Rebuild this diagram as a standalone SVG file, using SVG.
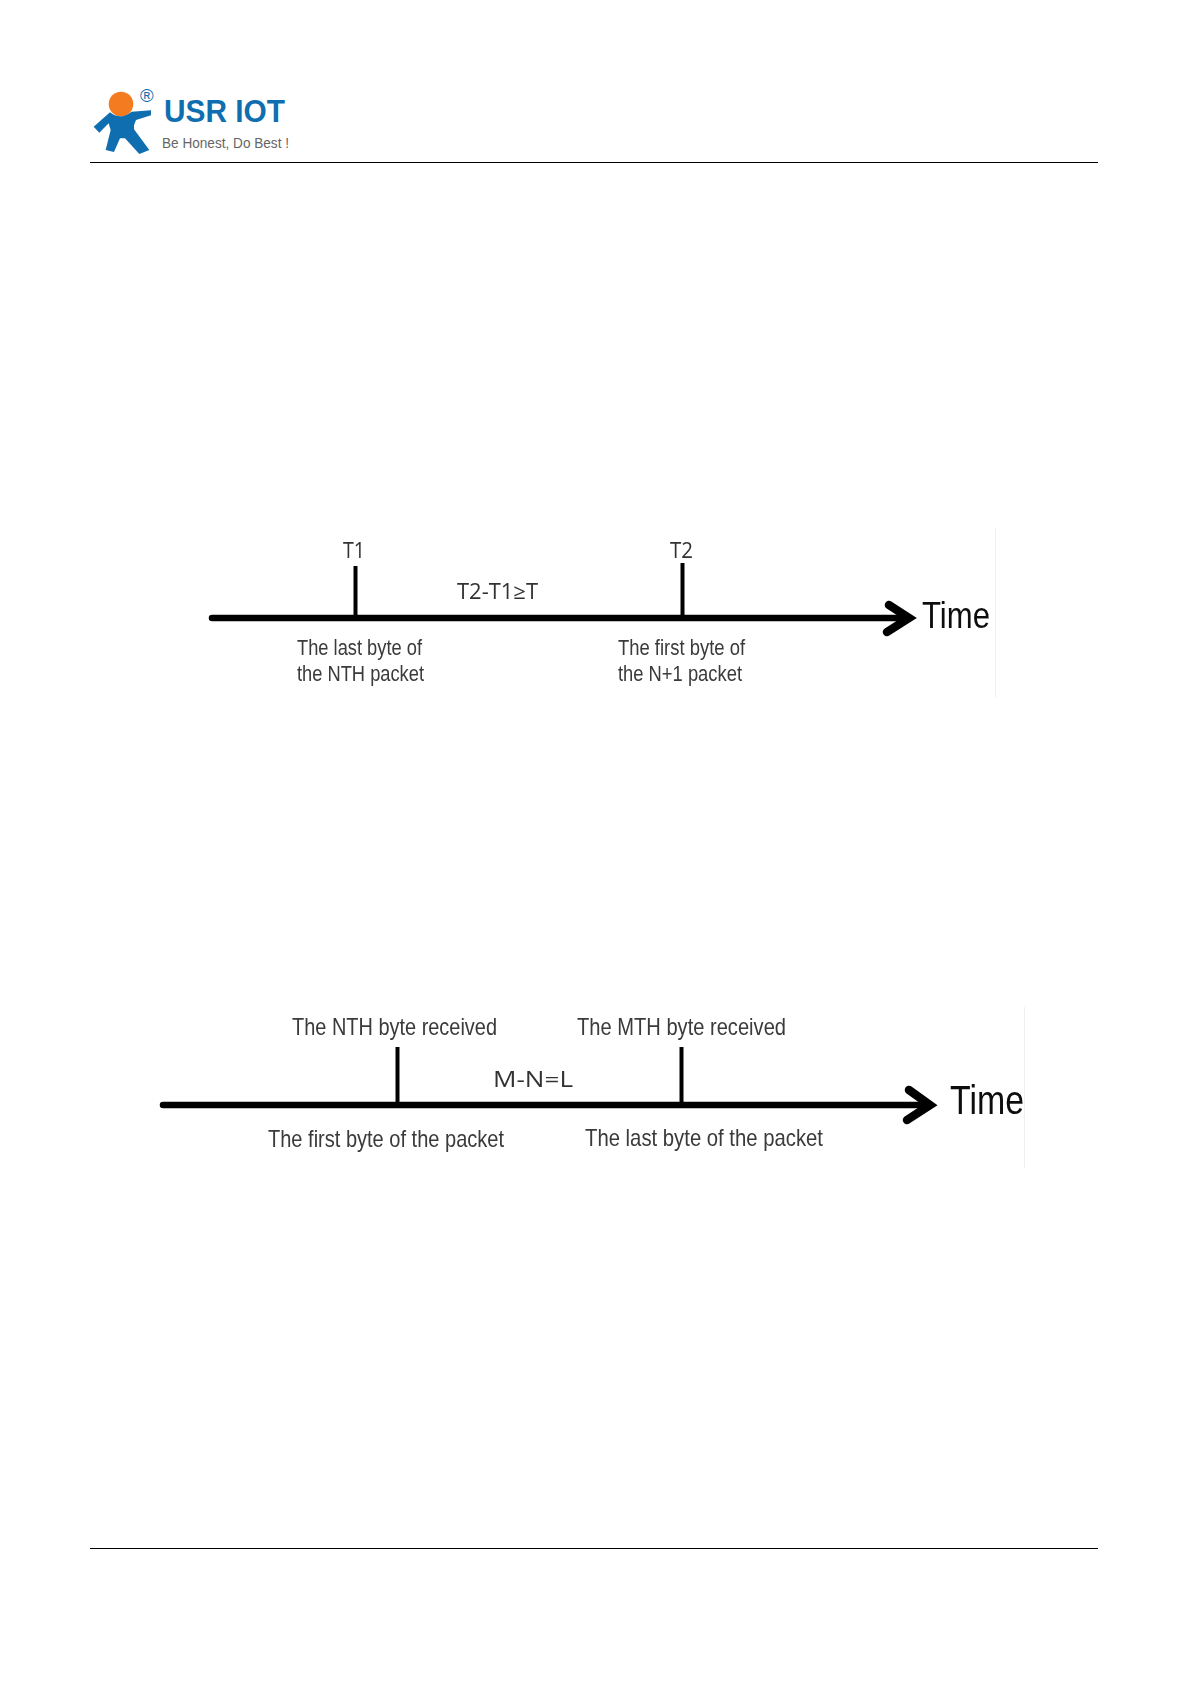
<svg xmlns="http://www.w3.org/2000/svg" width="1192" height="1685" viewBox="0 0 1192 1685">
<style>
text{font-family:"Liberation Sans",Arial,sans-serif;fill:#3a3a3a}
.c{font-family:"Open Sans","Noto Sans",sans-serif;fill:#333;font-size:21px}
.lab{font-size:21.500px}
.lab2{font-size:24px}
.time{font-size:36px;fill:#111}
.ax{stroke:#000;fill:none;stroke-width:6.500;stroke-linecap:round}
.hd{stroke:#000;fill:none;stroke-width:8.500;stroke-linecap:round;stroke-linejoin:miter}
.tk{stroke:#000;fill:none;stroke-width:4}
.rule{stroke:#000;stroke-width:1}
.edge{stroke:#f0f0f0;stroke-width:1}
</style>
<defs><filter id="soft" x="-5%" y="-20%" width="110%" height="140%"><feGaussianBlur stdDeviation="0.45"/></filter></defs>
<rect width="1192" height="1685" fill="#fff"/>
<g id="logo">
<circle cx="121" cy="104" r="12.300" fill="#f47b20"/>
<g transform="translate(70 70) scale(.3333)">
<path fill="#0f6eb0" d="M120 127Q150 152 185 125L243 121L243 136L198 150Q190 165 192 178L238 240L208 252L165 205L150 205L132 246L107 240L122 180L116 160L88 188L71 170Z"/>
</g>
<text x="140" y="102" style="font-size:18.500px;fill:#0f6eb0">®</text>
<text x="164" y="122" textLength="121" lengthAdjust="spacingAndGlyphs" style="font-size:31px;font-weight:bold;fill:#0f6eb0">USR IOT</text>
<text x="162" y="148" textLength="127" lengthAdjust="spacingAndGlyphs" style="font-size:15px;fill:#666">Be Honest, Do Best !</text>
</g>
<g id="page-rules">
<line class="rule" x1="90" y1="162.500" x2="1098" y2="162.500"/>
<line class="rule" x1="90" y1="1548.500" x2="1098" y2="1548.500"/>
<line class="edge" x1="995.500" y1="528" x2="995.500" y2="698"/>
<line class="edge" x1="1024.500" y1="1007" x2="1024.500" y2="1168"/>
</g>
<g id="connectors">
<path class="ax" d="M212 618H905"/>
<path class="hd" d="M889 605L909 618L887 632"/>
<line class="tk" x1="355.500" y1="566" x2="355.500" y2="618"/>
<line class="tk" x1="682.500" y1="563" x2="682.500" y2="618"/>
<path class="ax" d="M163 1105H927"/>
<path class="hd" d="M909 1090L930 1105L907 1120"/>
<line class="tk" x1="397.500" y1="1047" x2="397.500" y2="1105"/>
<line class="tk" x1="681.500" y1="1047" x2="681.500" y2="1105"/>
</g>
<g id="timeline-1" filter="url(#soft)">
<text class="c" x="343" y="558" textLength="22" lengthAdjust="spacingAndGlyphs">T1</text>
<text class="c" x="670" y="558" textLength="23" lengthAdjust="spacingAndGlyphs">T2</text>
<text class="c" x="457" y="599" textLength="81" lengthAdjust="spacingAndGlyphs">T2-T1≥T</text>
<text class="lab" x="297" y="655" textLength="125" lengthAdjust="spacingAndGlyphs">The last byte of</text>
<text class="lab" x="297" y="681" textLength="127" lengthAdjust="spacingAndGlyphs">the NTH packet</text>
<text class="lab" x="618" y="655" textLength="127" lengthAdjust="spacingAndGlyphs">The first byte of</text>
<text class="lab" x="618" y="681" textLength="124" lengthAdjust="spacingAndGlyphs">the N+1 packet</text>
<text class="time" x="922" y="628" textLength="68" lengthAdjust="spacingAndGlyphs">Time</text>
</g>
<g id="timeline-2" filter="url(#soft)">
<text class="lab2" x="292" y="1035" textLength="205" lengthAdjust="spacingAndGlyphs">The NTH byte received</text>
<text class="lab2" x="577" y="1035" textLength="209" lengthAdjust="spacingAndGlyphs">The MTH byte received</text>
<text class="c" x="493" y="1087" textLength="80" lengthAdjust="spacingAndGlyphs" style="font-size:22px">M-N=L</text>
<text class="lab2" x="268" y="1147" textLength="236" lengthAdjust="spacingAndGlyphs">The first byte of the packet</text>
<text class="lab2" x="585" y="1146" textLength="238" lengthAdjust="spacingAndGlyphs">The last byte of the packet</text>
<text class="time" x="950" y="1114" textLength="74" lengthAdjust="spacingAndGlyphs" style="font-size:40px">Time</text>
</g>
</svg>
